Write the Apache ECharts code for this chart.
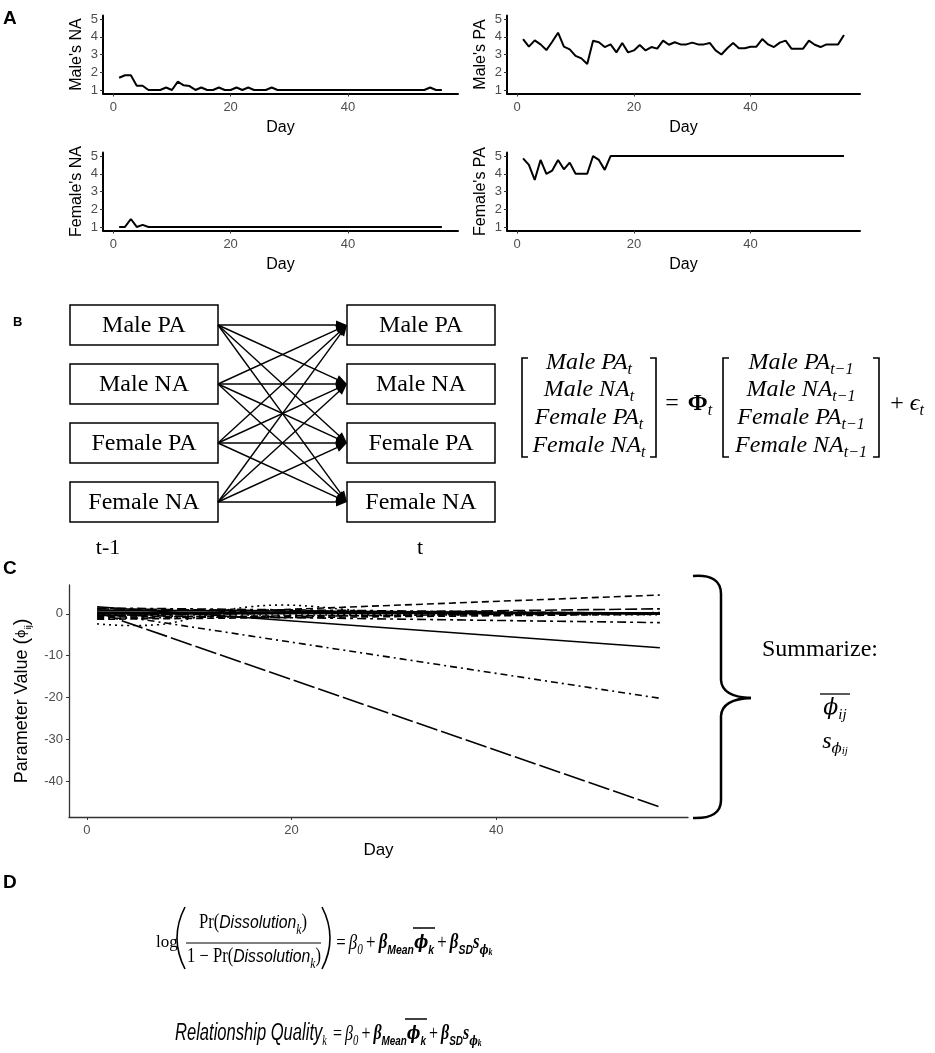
<!DOCTYPE html>
<html><head><meta charset="utf-8">
<script src="https://cdn.jsdelivr.net/npm/echarts@6/dist/echarts.min.js"></script>
<style>html,body{margin:0;padding:0;background:#fff}#chart{width:935px;height:1053px}</style>
</head><body><div id="chart"></div>
<script>
// ---------------- DATA ----------------
const days = [1,2,3,4,5,6,7,8,9,10,11,12,13,14,15,16,17,18,19,20,21,22,23,24,25,26,27,28,29,30,31,32,33,34,35,36,37,38,39,40,41,42,43,44,45,46,47,48,49,50,51,52,53,54,55,56];
const maleNA = [1.69,1.83,1.83,1.24,1.24,1,1,1,1.14,1,1.47,1.26,1.22,1,1.14,1,1,1.14,1,1,1.14,1,1.14,1,1,1,1.14,
  1,1,1,1,1,1,1,1,1,1,1,1,1,1,1,1,1,1,1,1,1,1,1,1,1,1,1.14,1,1];
const malePA = [3.87,3.44,3.80,3.57,3.25,3.72,4.23,3.44,3.29,2.92,2.78,2.46,3.78,3.69,3.42,3.57,3.12,3.65,3.12,3.23,
  3.54,3.23,3.42,3.33,3.78,3.55,3.69,3.57,3.57,3.67,3.57,3.57,3.65,3.23,3.00,3.35,3.65,3.35,3.35,3.44,
  3.44,3.87,3.57,3.42,3.67,3.78,3.33,3.33,3.33,3.78,3.55,3.42,3.57,3.57,3.57,4.10];
const femaleNA = [1,1,1.45,1,1.12,1,1,1,1,1,1,1,1,1,1,1,1,1,1,1,1,1,1,1,1,1,1,1,1,1,1,1,1,1,1,1,1,1,1,1,1,1,1,1,1,1,1,1,1,1,1,1,1,1,1,1];
const femalePA = [4.87,4.5,3.65,4.78,4.0,4.18,4.78,4.25,4.63,4.0,4.0,4.0,5.0,4.78,4.22,
  5,5,5,5,5,5,5,5,5,5,5,5,5,5,5,5,5,5,5,5,5,5,5,5,5,5,5,5,5,5,5,5,5,5,5,5,5,5,5,5,5];
const panelANames = ["Male's NA","Male's PA","Female's NA","Female's PA"];
const dayTicks = [0,20,40];
const scaleTicks = [1,2,3,4,5];
const phiTicks = [-40,-30,-20,-10,0];

// panel C: estimated phi_ij trajectories, [day, value]
const phiLongDash   = [[1,0.4],[56,-46.2]];
const phiDotDash    = [[1,0.3],[56,-20.2]];
const phiSolidDown  = [[1,1.7],[56,-8.1]];
const phiTwoDash    = [[1,-0.3],[56,-2.1]];
const phiDashedUp   = [[1,-0.7],[56,4.5]];
const phiLongDashUp = [[1,-0.4],[56,1.2]];
const phiDottedArc  = [[1,-2.4],[4,-2.8],[7,-2.6],[10,-1.2],[13,0.6],[16,1.7],[19,2.1],[22,1.8],[25,1.1],[28,0.5],[32,0.2],[40,0.1],[56,0.1]];
const phiNear1 = [[1,0.9],[56,0.2]];
const phiNear2 = [[1,-0.8],[56,0.1]];
const phiNear3 = [[1,1.2],[56,-0.1]];
const phiNear4 = [[1,-1.1],[56,0.3]];
const phiNear5 = [[1,0.4],[56,0.0]];
const phiNear6 = [[1,-0.3],[56,-0.2]];
const phiNear7 = [[1,1.4],[56,0.1]];
const phiNear8 = [[1,0.0],[56,0.2]];
const phiNear9 = [[1,-1.3],[56,-0.1]];

const nodeNames = ['Male PA','Male NA','Female PA','Female NA'];
const timeLabels = ['t-1','t'];

// ---------------- STYLE ----------------
const SANS = '"Liberation Sans", Arial, sans-serif';
const SERIF = '"Liberation Serif", "Times New Roman", serif';
const NARROW = '"Liberation Sans", sans-serif';
const GRAY = '#4d4d4d';

const gridsA = [
  {left:103, top:15.5, width:355, height:78},
  {left:507, top:15.5, width:353, height:78},
  {left:103, top:152.5, width:355, height:78},
  {left:507, top:152.5, width:353, height:78}
];
const gridC = {left:69, top:585, width:619, height:232};

const grids = gridsA.concat([gridC]).map(g => Object.assign({containLabel:false, outerBoundsMode:'none'}, g));

const xAxes = [], yAxes = [], series = [];
const seriesA = [maleNA, malePA, femaleNA, femalePA];
gridsA.forEach((g, i) => {
  xAxes.push({gridIndex:i, type:'value', min:-1.75, max:58.75,
    name:'Day', nameLocation:'middle', nameGap:26, nameMoveOverlap:false,
    nameTextStyle:{fontFamily:SANS, fontSize:16, color:'#000'},
    axisLine:{onZero:false, lineStyle:{color:'#000', width:2}},
    axisTick:{customValues:dayTicks, length:3, lineStyle:{color:'#333', width:1}},
    axisLabel:{customValues:dayTicks, color:GRAY, fontSize:13, fontFamily:SANS, margin:7},
    splitLine:{show:false}});
  yAxes.push({gridIndex:i, type:'value', min:0.8, max:5.2,
    name:panelANames[i], nameLocation:'middle', nameGap:18, nameMoveOverlap:false,
    nameTextStyle:{fontFamily:SANS, fontSize:16, color:'#000'},
    axisLine:{onZero:false, lineStyle:{color:'#000', width:2}},
    axisTick:{customValues:scaleTicks, length:3, lineStyle:{color:'#333', width:1}},
    axisLabel:{customValues:scaleTicks, color:GRAY, fontSize:13, fontFamily:SANS, margin:5},
    splitLine:{show:false}});
  series.push({type:'line', xAxisIndex:i, yAxisIndex:i, symbol:'none', silent:true,
    data: days.map((d, k) => [d, seriesA[i][k]]),
    lineStyle:{color:'#000', width:2}});
});

xAxes.push({gridIndex:4, type:'value', min:-1.75, max:58.75,
  name:'Day', nameLocation:'middle', nameGap:25, nameMoveOverlap:false,
  nameTextStyle:{fontFamily:SANS, fontSize:17, color:'#000'},
  axisLine:{onZero:false, lineStyle:{color:'#333', width:1.3}},
  axisTick:{customValues:dayTicks, length:3, lineStyle:{color:'#333', width:1}},
  axisLabel:{customValues:dayTicks, color:GRAY, fontSize:13, fontFamily:SANS, margin:7},
  splitLine:{show:false}});
yAxes.push({gridIndex:4, type:'value', min:-48.6, max:6.9,
  name:'{a|Parameter Value }{b|(}{p|ϕ}{s|ij}{b|)}', nameLocation:'middle', nameGap:36, nameMoveOverlap:false,
  nameTextStyle:{rich:{
    a:{fontFamily:SANS, fontSize:18, color:'#000', lineHeight:22},
    b:{fontFamily:SANS, fontSize:20, color:'#000', lineHeight:22},
    p:{fontFamily:'"DejaVu Sans"', fontSize:13, color:'#000', lineHeight:22},
    s:{fontFamily:SANS, fontSize:9, color:'#000', lineHeight:12, verticalAlign:'bottom'}
  }},
  axisLine:{onZero:false, lineStyle:{color:'#333', width:1.3}},
  axisTick:{customValues:phiTicks, length:3, lineStyle:{color:'#333', width:1}},
  axisLabel:{customValues:phiTicks, color:GRAY, fontSize:13, fontFamily:SANS, margin:6},
  splitLine:{show:false}});

const cSeries = [
  [phiLongDash, [22,4]], [phiDotDash, [7,4,2,4]], [phiSolidDown, 'solid'], [phiTwoDash, [9,4,3,4]],
  [phiDashedUp, [7,4]], [phiLongDashUp, [12,4]], [phiDottedArc, [2,4]],
  [phiNear1, 'solid'], [phiNear2, [7,4]], [phiNear3, [12,4]], [phiNear4, [7,4,2,4]],
  [phiNear5, 'solid'], [phiNear6, [2,4]], [phiNear7, [9,4,3,4]], [phiNear8, 'solid'], [phiNear9, [7,4]]
];
cSeries.forEach(([d, t]) => {
  series.push({type:'line', xAxisIndex:4, yAxisIndex:4, symbol:'none', silent:true,
    smooth: d.length > 2 ? 0.4 : false, data:d,
    lineStyle:{color:'#000', width:1.6, type:t}});
});

// ---------------- GRAPHIC (panel letters, diagram, equations) ----------------
function T(x, y, text, st, extra) {
  return Object.assign({type:'text', x, y, silent:true,
    style:Object.assign({text, fill:'#000', align:'center', verticalAlign:'middle'}, st || {})}, extra || {});
}
const G = [];
G.push(T(3, 19, 'A', {align:'left', font:'bold 19px ' + SANS}));
G.push(T(13, 322, 'B', {align:'left', font:'bold 13px ' + SANS}));
G.push(T(3, 569, 'C', {align:'left', font:'bold 19px ' + SANS}));
G.push(T(3, 883, 'D', {align:'left', font:'bold 19px ' + SANS}));

// Panel B boxes and arrows
const boxW = 148, boxH = 40, boxTop0 = 305, boxStep = 59, leftX = 70, rightX = 347;
[leftX, rightX].forEach(bx => {
  nodeNames.forEach((n, i) => {
    const y = boxTop0 + i * boxStep;
    G.push({type:'rect', silent:true, shape:{x:bx, y, width:boxW, height:boxH},
      style:{fill:'#fff', stroke:'#000', lineWidth:1.5}});
    G.push(T(bx + boxW / 2, y + boxH / 2 + 1, n, {font:'24px ' + SERIF}));
  });
});
nodeNames.forEach((a, i) => nodeNames.forEach((b, j) => {
  const x1 = leftX + boxW, y1 = boxTop0 + i * boxStep + boxH / 2;
  const x2 = rightX, y2 = boxTop0 + j * boxStep + boxH / 2;
  const dx = x2 - x1, dy = y2 - y1, L = Math.hypot(dx, dy), ux = dx / L, uy = dy / L;
  const al = 11, aw = 4.5, bx = x2 - ux * al, by = y2 - uy * al;
  G.push({type:'line', silent:true, shape:{x1, y1, x2:bx, y2:by}, style:{stroke:'#000', lineWidth:1.4}});
  G.push({type:'polygon', silent:true, shape:{points:[[x2, y2], [bx - uy * aw, by + ux * aw], [bx + uy * aw, by - ux * aw]]},
    style:{fill:'#000'}});
}));
G.push(T(108, 548, timeLabels[0], {font:'22px ' + SERIF}));
G.push(T(420, 548, timeLabels[1], {font:'22px ' + SERIF}));

// Matrix equation
const mRich = {
  i:{fontFamily:SERIF, fontStyle:'italic', fontSize:24, lineHeight:30, fill:'#000'},
  s:{fontFamily:SERIF, fontStyle:'italic', fontSize:16, lineHeight:14, verticalAlign:'bottom', fill:'#000'},
  B:{fontFamily:SERIF, fontWeight:'bold', fontSize:24, lineHeight:30, fill:'#000'},
  o:{fontFamily:SERIF, fontSize:24, lineHeight:30, fill:'#000'}
};
const rowY = [363, 390, 418, 446];
nodeNames.forEach((n, k) => {
  G.push(T(589, rowY[k], '{i|' + n + '}{s|t}', {rich:mRich}));
  G.push(T(801, rowY[k], '{i|' + n + '}{s|t−1}', {rich:mRich}));
});
function bracket(x, dir) {
  return {type:'polyline', silent:true,
    shape:{points:[[x + 6 * dir, 358], [x, 358], [x, 457], [x + 6 * dir, 457]]},
    style:{stroke:'#000', lineWidth:1.6, fill:'none'}};
}
G.push(bracket(522, 1), bracket(656, -1), bracket(723, 1), bracket(879, -1));
G.push(T(672, 404, '{o|=}', {rich:mRich}));
G.push(T(700, 404, '{B|Φ}{s|t}', {rich:mRich}));
G.push(T(907, 404, '{o|+ }{i|ϵ}{s|t}', {rich:mRich}));

// Brace + summary (panel C)
const braceSt = {stroke:'#000', lineWidth:2.5, fill:'none'};
G.push({type:'bezierCurve', silent:true, shape:{x1:693, y1:576, cpx1:721, cpy1:574, x2:721, y2:594}, style:braceSt});
G.push({type:'line', silent:true, shape:{x1:721, y1:594, x2:721, y2:680}, style:braceSt});
G.push({type:'bezierCurve', silent:true, shape:{x1:721, y1:680, cpx1:722, cpy1:697, x2:751, y2:698}, style:braceSt});
G.push({type:'bezierCurve', silent:true, shape:{x1:751, y1:698, cpx1:722, cpy1:699, x2:721, y2:716}, style:braceSt});
G.push({type:'line', silent:true, shape:{x1:721, y1:716, x2:721, y2:800}, style:braceSt});
G.push({type:'bezierCurve', silent:true, shape:{x1:721, y1:800, cpx1:721, cpy1:819, x2:693, y2:818}, style:braceSt});
G.push(T(762, 650, 'Summarize:', {align:'left', font:'24px ' + SERIF}));
const sRich = {
  p:{fontFamily:'"DejaVu Serif"', fontStyle:'italic', fontSize:22, lineHeight:30, fill:'#000'},
  i:{fontFamily:SERIF, fontStyle:'italic', fontSize:24, lineHeight:30, fill:'#000'},
  s:{fontFamily:SERIF, fontStyle:'italic', fontSize:15, lineHeight:14, verticalAlign:'bottom', fill:'#000'},
  sp:{fontFamily:'"DejaVu Serif"', fontStyle:'italic', fontSize:15, lineHeight:14, verticalAlign:'bottom', fill:'#000'},
  ss:{fontFamily:SERIF, fontStyle:'italic', fontSize:11, lineHeight:8, verticalAlign:'bottom', fill:'#000'}
};
G.push(T(835, 708, '{p|ϕ}{s|ij}', {rich:sRich}));
G.push({type:'line', silent:true, shape:{x1:820, y1:694, x2:850, y2:694}, style:{stroke:'#000', lineWidth:1.3}});
G.push(T(835, 742, '{i|s}{sp|ϕ}{ss|ij}', {rich:sRich}));

// Panel D equations
const eRich = {
  o:{fontFamily:SERIF, fontSize:21, lineHeight:28, padding:[0,4,0,4], fill:'#000'},
  u:{fontFamily:SERIF, fontSize:20, lineHeight:28, fill:'#000'},
  g:{fontFamily:SERIF, fontStyle:'italic', fontSize:21, lineHeight:28, fill:'#000'},
  gb:{fontFamily:SERIF, fontStyle:'italic', fontWeight:'bold', fontSize:21, lineHeight:28, fill:'#000'},
  pb:{fontFamily:'"DejaVu Serif"', fontStyle:'italic', fontWeight:'bold', fontSize:19, lineHeight:28, fill:'#000'},
  bs:{fontFamily:SERIF, fontStyle:'italic', fontWeight:'bold', fontSize:21, lineHeight:28, fill:'#000'},
  w:{fontFamily:NARROW, fontStyle:'italic', fontSize:23, lineHeight:28, fill:'#000'},
  wn:{fontFamily:NARROW, fontStyle:'italic', fontSize:19, lineHeight:28, fill:'#000'},
  s:{fontFamily:SERIF, fontStyle:'italic', fontSize:14, lineHeight:12, verticalAlign:'bottom', fill:'#000'},
  sb:{fontFamily:NARROW, fontStyle:'italic', fontWeight:'bold', fontSize:13, lineHeight:12, verticalAlign:'bottom', fill:'#000'},
  sp:{fontFamily:'"DejaVu Serif"', fontStyle:'italic', fontWeight:'bold', fontSize:12, lineHeight:12, verticalAlign:'bottom', fill:'#000'},
  ss:{fontFamily:SERIF, fontStyle:'italic', fontWeight:'bold', fontSize:10, lineHeight:6, verticalAlign:'bottom', fill:'#000'}
};
const rhs = '{o|=}{g|β}{s|0}{o|+}{gb|β}{sb|Mean}{pb|ϕ}{sb|k}{o|+}{gb|β}{sb|SD}{bs|s}{sp|ϕ}{ss|k}';
G.push(T(156, 943, 'log', {align:'left', font:'17px ' + SERIF}));
const parSt = {stroke:'#000', lineWidth:1.6, fill:'none'};
G.push({type:'bezierCurve', silent:true, shape:{x1:185, y1:907, cpx1:169, cpy1:938, x2:185, y2:969}, style:parSt});
G.push({type:'bezierCurve', silent:true, shape:{x1:322, y1:907, cpx1:338, cpy1:938, x2:322, y2:969}, style:parSt});
G.push(T(253, 923, '{u|Pr(}{wn|Dissolution}{s|k}{u|)}', {rich:eRich}, {scaleX:0.83}));
G.push({type:'line', silent:true, shape:{x1:186, y1:943, x2:321, y2:943}, style:{stroke:'#000', lineWidth:1.2}});
G.push(T(254, 957, '{u|1 − Pr(}{wn|Dissolution}{s|k}{u|)}', {rich:eRich}, {scaleX:0.83}));
G.push(T(333, 943, rhs, {align:'left', rich:eRich}, {scaleX:0.8}));
G.push({type:'line', silent:true, shape:{x1:413, y1:928, x2:435, y2:928}, style:{stroke:'#000', lineWidth:1.5}});
G.push(T(175, 1034, '{w|Relationship Quality}{s|k}', {align:'left', rich:eRich}, {scaleX:0.72}));
G.push(T(330, 1034, rhs, {align:'left', rich:eRich}, {scaleX:0.76}));
G.push({type:'line', silent:true, shape:{x1:405, y1:1019, x2:427, y2:1019}, style:{stroke:'#000', lineWidth:1.5}});

const chart = echarts.init(document.getElementById('chart'), null, {renderer:'canvas'});
chart.setOption({
  backgroundColor:'#fff',
  animation:false,
  grid:grids,
  xAxis:xAxes,
  yAxis:yAxes,
  series:series,
  graphic:{elements:G}
});
</script>
</body></html>
